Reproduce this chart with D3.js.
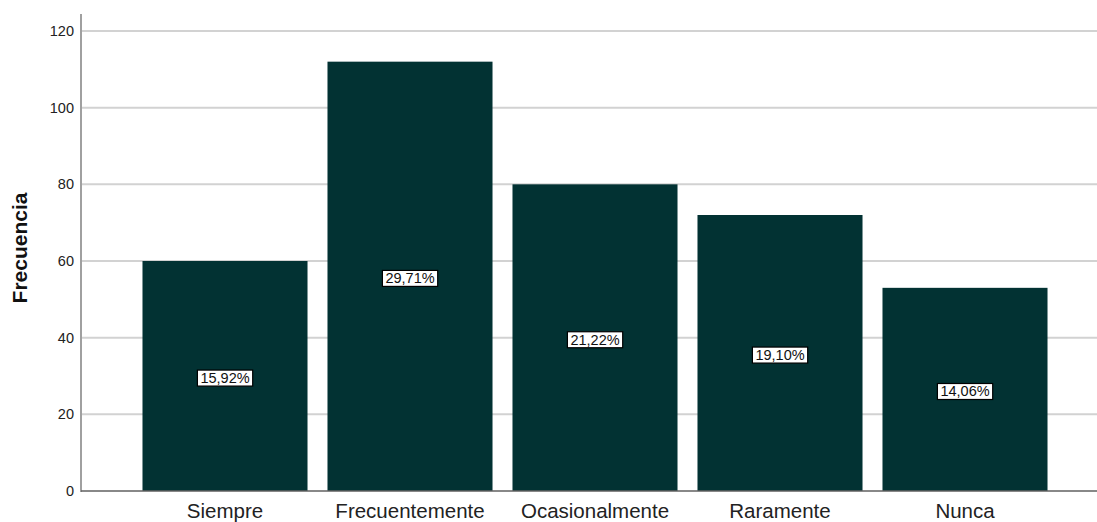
<!DOCTYPE html>
<html>
<head>
<meta charset="utf-8">
<script src="https://cdnjs.cloudflare.com/ajax/libs/d3/7.8.5/d3.min.js"></script>
<style>
  body { margin: 0; background: #fff; overflow: hidden; }
  text { font-family: "Liberation Sans", Arial, sans-serif; }
</style>
</head>
<body>
<svg id="misvg"></svg>
<script>
const categorias = ["Siempre", "Frecuentemente", "Ocasionalmente", "Raramente", "Nunca"];
const frecuencias = [60, 112, 80, 72, 53];
const porcentajes = ["15,92%", "29,71%", "21,22%", "19,10%", "14,06%"];
const ticksY = [0, 20, 40, 60, 80, 100, 120];

const W = 1097, H = 522;
const ejeX = 81, y0 = 491, yTop = 14;

const svg = d3.select("#misvg")
  .attr("width", W)
  .attr("height", H);

const x = d3.scaleBand()
  .domain(categorias)
  .range([132.5, 1057.5])
  .paddingInner(0.108)
  .paddingOuter(0.054);

const y = d3.scaleLinear()
  .domain([0, 120])
  .range([y0, 31]);

// gridlines
svg.append("g")
  .selectAll("line")
  .data(ticksY.filter(d => d > 0))
  .enter().append("line")
  .attr("x1", ejeX)
  .attr("x2", W)
  .attr("y1", d => y(d))
  .attr("y2", d => y(d))
  .attr("stroke", "#d2d2d2")
  .attr("stroke-width", 2);

// bars
svg.selectAll(".bar")
  .data(frecuencias)
  .enter().append("rect")
  .attr("class", "bar")
  .attr("x", (d, i) => x(categorias[i]))
  .attr("width", x.bandwidth())
  .attr("y", d => y(d))
  .attr("height", d => y0 - y(d))
  .attr("fill", "#023233");

// y axis
const gy = svg.append("g")
  .attr("transform", "translate(" + ejeX + ",0)")
  .call(d3.axisLeft(y).tickValues(ticksY).tickSize(0).tickPadding(7));
gy.select(".domain").remove();
gy.selectAll("text")
  .attr("font-size", 14.5)
  .attr("font-family", "Liberation Sans, Arial, sans-serif")
  .attr("fill", "#222");

svg.append("line")
  .attr("x1", ejeX).attr("x2", ejeX)
  .attr("y1", yTop).attr("y2", y0 + 1)
  .attr("stroke", "#a0a0a0")
  .attr("stroke-width", 2);

// x axis
const gx = svg.append("g")
  .attr("transform", "translate(0," + y0 + ")")
  .call(d3.axisBottom(x).tickSize(0));
gx.select(".domain").remove();
gx.selectAll("text")
  .attr("y", 27)
  .attr("dy", 0)
  .attr("font-size", 20.5)
  .attr("font-family", "Liberation Sans, Arial, sans-serif")
  .attr("fill", "#222");

svg.append("line")
  .attr("x1", ejeX).attr("x2", W)
  .attr("y1", y0).attr("y2", y0)
  .attr("stroke", "#606060")
  .attr("stroke-width", 1.5);

// y title
svg.append("text")
  .attr("transform", "translate(27," + 248 + ") rotate(-90)")
  .attr("text-anchor", "middle")
  .attr("font-size", 21)
  .attr("font-weight", "bold")
  .attr("fill", "#111")
  .text("Frecuencia");

// percent labels
const etiquetas = svg.append("g")
  .selectAll("g")
  .data(frecuencias)
  .enter().append("g")
  .attr("transform", (d, i) => "translate(" + (x(categorias[i]) + x.bandwidth() / 2) + "," + ((y(d) + y0) / 2 + 2) + ")");

etiquetas.append("text")
  .attr("text-anchor", "middle")
  .attr("dy", "0.35em")
  .attr("font-size", 14.5)
  .attr("fill", "#111")
  .text((d, i) => porcentajes[i]);

etiquetas.each(function () {
  const g = d3.select(this);
  const bb = g.select("text").node().getBBox();
  g.insert("rect", "text")
    .attr("x", bb.x - 3)
    .attr("y", bb.y)
    .attr("width", bb.width + 6)
    .attr("height", bb.height)
    .attr("fill", "#fff")
    .attr("stroke", "#000")
    .attr("stroke-width", 1.2);
});
</script>
</body>
</html>
